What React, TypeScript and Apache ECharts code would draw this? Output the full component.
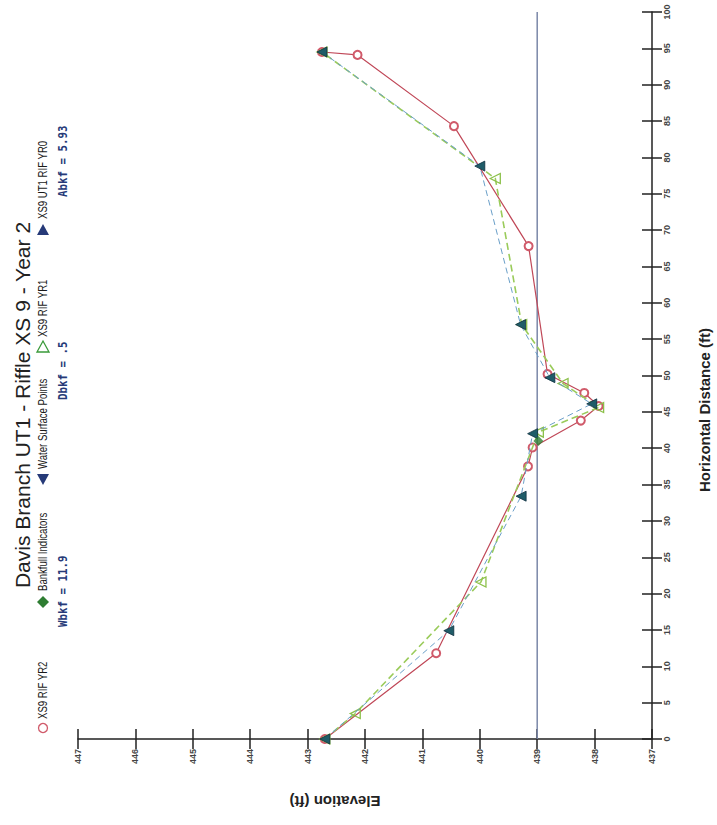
import React, { useEffect, useRef } from "react";
import * as echarts from "echarts";

// ---- Data (distance in ft, elevation in ft) ----
const yr2Dist = [0, 11.8, 37.5, 40.1, 43.8, 45.8, 47.6, 50.2, 67.8, 84.3, 94.1, 94.5];
const yr2Elev = [442.7, 440.76, 439.16, 439.08, 438.24, 437.93, 438.18, 438.82, 439.15, 440.45, 442.13, 442.75];

const yr1Dist = [0, 3.5, 21.6, 42.2, 45.6, 48.9, 57.0, 77.1, 94.5];
const yr1Elev = [442.7, 442.17, 439.98, 438.98, 437.93, 438.55, 439.27, 439.73, 442.75];

const yr0Dist = [0, 14.9, 33.4, 42.0, 46.1, 49.7, 57.0, 78.8, 94.5];
const yr0Elev = [442.7, 440.54, 439.28, 439.08, 438.05, 438.78, 439.29, 440.0, 442.75];

const bankfullDist = [41.0];
const bankfullElev = [438.98];

const waterSurfaceElev = 439.0;
const waterLineDist = [0, 100];

const titleText = "Davis Branch UT1 - Riffle XS 9 - Year 2";
const legendNames = ["XS9 RIF YR2", "Bankfull Indicators", "Water Surface Points", "XS9 RIF YR1", "XS9 UT1 RIF YR0"];
const statTexts = ["Wbkf = 11.9", "Dbkf = .5", "Abkf = 5.93"];

const pairs = (d: number[], e: number[]) => d.map((v, i) => [e[i], v]);

const sansFont = "'Liberation Sans', Arial, sans-serif";
const navy = "#263a78";

export default function App() {
  const ref = useRef<HTMLDivElement>(null);
  useEffect(() => {
    document.body.style.margin = "0";
    const chart = echarts.init(ref.current!, undefined, { renderer: "svg" });
    const rot = Math.PI / 2;
    const legendText = (x: number, y: number, text: string) => ({
      type: "text",
      x,
      y,
      rotation: rot,
      scaleX: 0.8,
      style: { text, align: "left", verticalAlign: "middle", fontSize: 12, fontFamily: sansFont, fill: "#1a1a1a" },
    });
    const statText = (x: number, y: number, text: string) => ({
      type: "text",
      x,
      y,
      rotation: rot,
      scaleX: 0.9,
      style: { text, align: "left", verticalAlign: "middle", fontSize: 12, fontWeight: "bold", fontFamily: "'DejaVu Sans Mono', monospace", fill: navy },
    });
    const axisCommon = {
      type: "value",
      splitLine: { show: false },
    };
    chart.setOption({
      animation: false,
      backgroundColor: "#ffffff",
      grid: { left: 78, right: 65, top: 12, bottom: 86 },
      xAxis: [
        {
          ...axisCommon,
          min: 437,
          max: 447,
          interval: 1,
          inverse: true,
          position: "bottom",
          axisLine: { show: true, lineStyle: { color: "#222", width: 1.5 } },
          axisTick: { show: true, length: 10, lineStyle: { color: "#222", width: 1.5 } },
          axisLabel: { rotate: 90, fontSize: 9, color: "#444", margin: 10, fontWeight: "bold", fontFamily: sansFont },
        },
        {
          ...axisCommon,
          min: 437,
          max: 447,
          interval: 1,
          inverse: true,
          position: "bottom",
          axisLine: { show: false },
          axisTick: { show: true, inside: true, length: 10, lineStyle: { color: "#222", width: 1.5 } },
          axisLabel: { show: false },
        },
      ],
      yAxis: [
        {
          ...axisCommon,
          min: 0,
          max: 100,
          interval: 5,
          position: "right",
          axisLine: { show: true, lineStyle: { color: "#222", width: 1.5 } },
          axisTick: { show: true, length: 10, lineStyle: { color: "#222", width: 1.5 } },
          axisLabel: { rotate: 90, fontSize: 9, color: "#444", margin: 10, fontWeight: "bold", fontFamily: sansFont },
        },
        {
          ...axisCommon,
          min: 0,
          max: 100,
          interval: 5,
          position: "right",
          axisLine: { show: false },
          axisTick: { show: true, inside: true, length: 10, lineStyle: { color: "#222", width: 1.5 } },
          axisLabel: { show: false },
        },
      ],
      series: [
        {
          name: "Water Surface",
          type: "line",
          data: waterLineDist.map((d) => [waterSurfaceElev, d]),
          symbol: "none",
          lineStyle: { color: "#7b87a8", width: 1.5 },
          z: 1,
        },
        {
          name: legendNames[0],
          type: "line",
          data: pairs(yr2Dist, yr2Elev),
          symbol: "emptyCircle",
          symbolSize: 8,
          itemStyle: { color: "#d05a6a", borderWidth: 1.1 },
          lineStyle: { color: "#c04858", width: 1.2 },
          z: 2,
        },
        {
          name: legendNames[3],
          type: "line",
          data: pairs(yr1Dist, yr1Elev),
          symbol: "triangle",
          symbolRotate: 90,
          symbolSize: 10,
          itemStyle: { color: "rgba(255,255,255,0)", borderColor: "#8cc04a", borderWidth: 1.3 },
          lineStyle: { color: "#9acb5a", width: 1.6, type: [7, 4] },
          z: 3,
        },
        {
          name: legendNames[4],
          type: "line",
          data: pairs(yr0Dist, yr0Elev),
          symbol: "triangle",
          symbolRotate: 90,
          symbolSize: 10,
          itemStyle: { color: "#1f5c68", borderColor: "#0f3040", borderWidth: 0.8 },
          lineStyle: { color: "#6a9fc8", width: 1, type: [6, 4] },
          z: 4,
        },
        {
          name: legendNames[1],
          type: "scatter",
          data: pairs(bankfullDist, bankfullElev),
          symbol: "diamond",
          symbolSize: 10,
          itemStyle: { color: "#2e7d32" },
          z: 5,
        },
      ],
      graphic: [
        {
          type: "text",
          x: 22,
          y: 405,
          rotation: rot,
          style: { text: titleText, align: "center", verticalAlign: "middle", fontSize: 21, fontFamily: sansFont, fill: "#222" },
        },
        {
          type: "text",
          x: 335,
          y: 801,
          rotation: Math.PI,
          style: { text: "Elevation (ft)", align: "center", verticalAlign: "middle", fontSize: 15, fontWeight: "bold", fontFamily: sansFont, fill: "#222" },
        },
        {
          type: "text",
          x: 704,
          y: 410,
          rotation: rot,
          style: { text: "Horizontal Distance (ft)", align: "center", verticalAlign: "middle", fontSize: 15, fontWeight: "bold", fontFamily: sansFont, fill: "#222" },
        },
        // legend markers
        { type: "circle", shape: { cx: 43, cy: 728, r: 4.5 }, style: { fill: "#fff", stroke: "#d05a6a", lineWidth: 1.3 } },
        legendText(43, 719, legendNames[0]),
        { type: "polygon", shape: { points: [[43, 596], [49, 602], [43, 608], [37, 602]] }, style: { fill: "#2e7d32" } },
        legendText(43, 591, legendNames[1]),
        { type: "polygon", shape: { points: [[37, 474], [49, 474], [43, 485]] }, style: { fill: navy } },
        legendText(43, 469, legendNames[2]),
        { type: "polygon", shape: { points: [[37, 352], [49, 352], [43, 341]] }, style: { fill: "#fff", stroke: "#3a9a3a", lineWidth: 1.3 } },
        legendText(43, 337, legendNames[3]),
        { type: "polygon", shape: { points: [[37, 235], [49, 235], [43, 224]] }, style: { fill: navy } },
        legendText(43, 219, legendNames[4]),
        statText(63, 627, statTexts[0]),
        statText(63, 400, statTexts[1]),
        statText(63, 197, statTexts[2]),
      ],
    });
    return () => chart.dispose();
  }, []);
  return <div ref={ref} style={{ position: "absolute", left: 0, top: 0, width: 717, height: 825 }} />;
}
